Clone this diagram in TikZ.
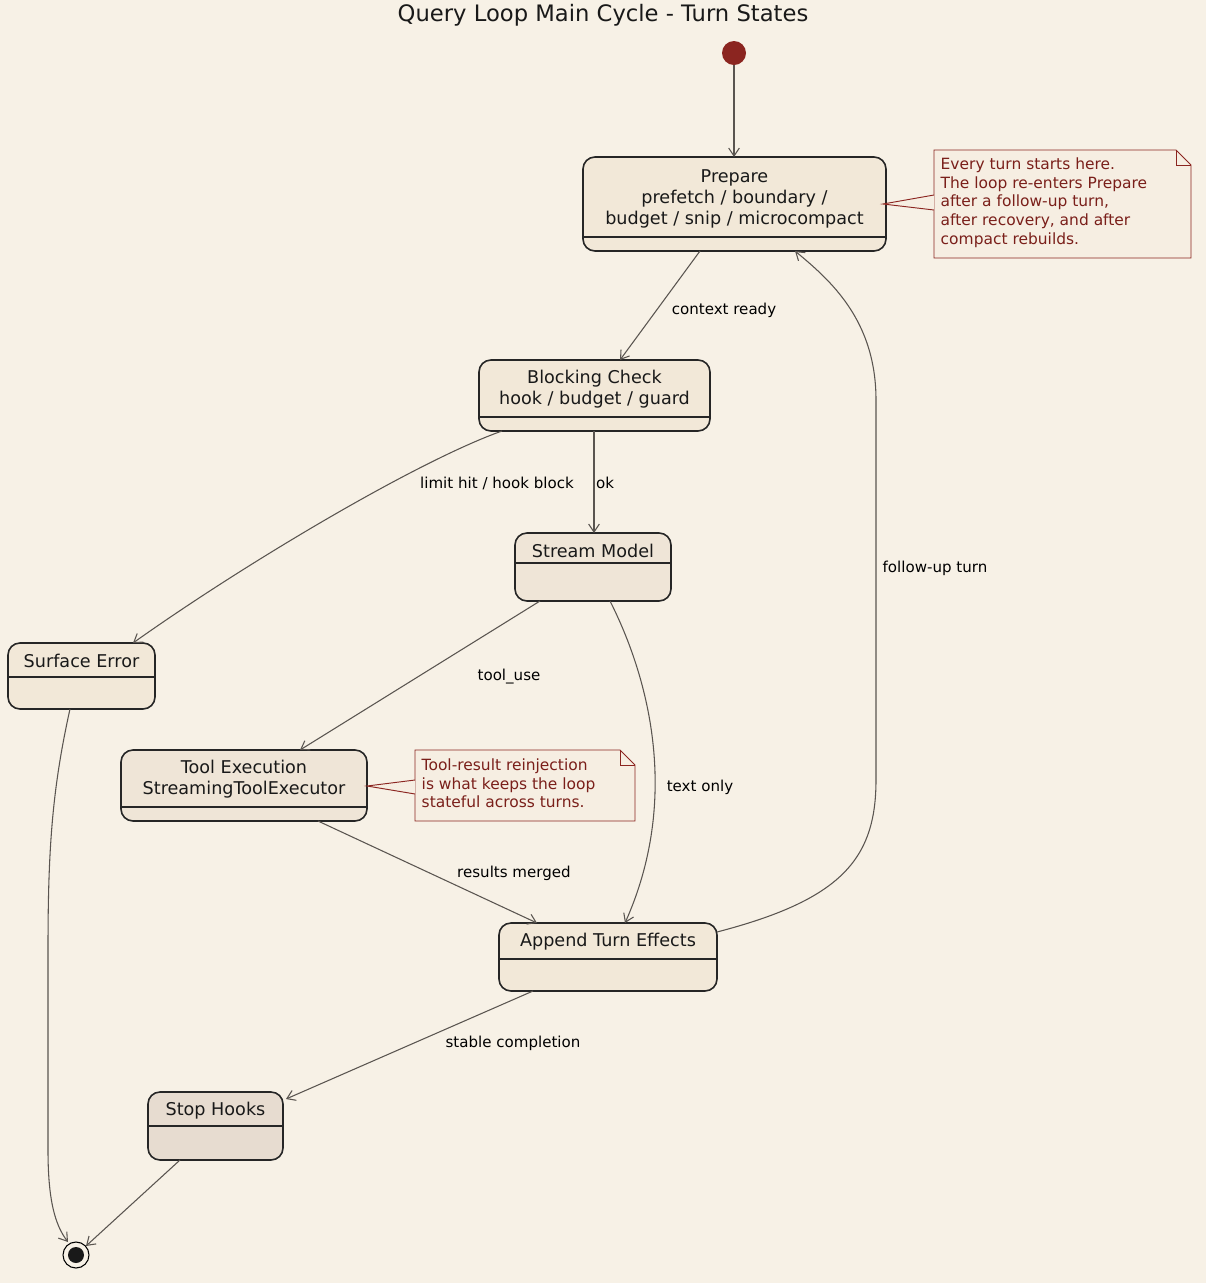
\documentclass[tikz,border=0pt]{standalone}
\usepackage{fontspec}
\setmainfont{DejaVu Sans}
\usetikzlibrary{arrows.meta}
\definecolor{bg}{HTML}{F7F1E6}
\definecolor{st}{HTML}{F2E8D8}
\definecolor{stb}{HTML}{EFE5D7}
\definecolor{sth}{HTML}{E7DCD0}
\definecolor{dred}{HTML}{8B2520}
\definecolor{ntext}{HTML}{7A1F1A}
\definecolor{edge}{HTML}{5A5550}
\definecolor{nfill}{HTML}{F6EEE2}
\begin{document}
\begin{tikzpicture}[x=0.75pt,y=-0.75pt,
 box/.style={draw=black!85,line width=1.2pt,rounded corners=9pt},
 lbl/.style={font=\fontsize{11.3}{13}\selectfont,text=black},
 stt/.style={font=\fontsize{13.2}{16}\selectfont,align=center,text=black!90},
 ed/.style={draw=edge,line width=0.8pt,-{Straight Barb[length=6pt,width=8pt]}},
 note/.style={draw=dred,fill=nfill,line width=0.7pt},
 ntx/.style={font=\fontsize{11.6}{14}\selectfont,align=left,text=ntext,anchor=north west}]
\fill[bg] (0,0) rectangle (1206,1283);
\useasboundingbox (0,0) rectangle (1206,1283);
\node[font=\fontsize{17}{20}\selectfont,text=black!90] (title) at (603,15) {Query Loop Main Cycle - Turn States};
% start/end
\node[circle,fill=dred,minimum size=24pt*0.75,inner sep=0] (start) at (734,53) {};
\node[circle,draw=black,line width=0.8pt,fill=bg,minimum size=26*0.75pt,inner sep=0] (end) at (76,1255) {};
\fill[black!90] (end.center) circle (8);
% states
\newcommand\stbox[6]{%
 \draw[box,fill=#6] (#1,#2) rectangle (#3,#4);
 \draw[black!85,line width=1.2pt] (#1,#5) -- (#3,#5);}
\stbox{583}{157}{886}{251}{237}{st}
\node[stt] (prep) at (734.5,199) {Prepare\\prefetch / boundary /\\budget / snip / microcompact};
\stbox{479}{360}{710}{431}{417}{st}
\node[stt] (blk) at (594.5,389) {Blocking Check\\hook / budget / guard};
\stbox{515}{533}{671}{601}{563}{stb}
\node[stt] (strm) at (593,551) {Stream Model};
\stbox{8}{643}{155}{709}{677}{st}
\node[stt] (surf) at (81.5,661) {Surface Error};
\stbox{121}{750}{367}{821}{807}{stb}
\node[stt] (tool) at (244,779) {Tool Execution\\StreamingToolExecutor};
\stbox{499}{923}{717}{991}{959}{st}
\node[stt] (app) at (608,942) {Append Turn Effects};
\stbox{148}{1092}{283}{1160}{1126}{sth}
\node[stt] (stop) at (215.5,1111) {Stop Hooks};
% named anchor coordinates
\coordinate (startb) at (734,65);
\coordinate (prepT) at (734,157);
\coordinate (prepB) at (700,251);
\coordinate (blkT) at (620,360);
\coordinate (blkB) at (594,431);
\coordinate (blkBL) at (502,431);
\coordinate (strmT) at (594,533);
\coordinate (surfT) at (133,643);
\coordinate (strmBL) at (540,601);
\coordinate (strmBR) at (610,601);
\coordinate (toolT) at (300,750);
\coordinate (appT) at (625,923);
\coordinate (appTL) at (537,923);
\coordinate (toolB) at (318,821);
\coordinate (appR) at (717,932);
\coordinate (prepBR) at (795,251);
\coordinate (appB) at (533,991);
\coordinate (stopT) at (286,1099);
\coordinate (surfB) at (70,709);
\coordinate (endT) at (68,1242);
\coordinate (stopB) at (180,1160);
\coordinate (endR) at (86,1246);
% edges
\draw[ed] (startb) -- (prepT);
\draw[ed] (prepB) -- (blkT);
\node[lbl] at (724,310) {context ready};
\draw[ed] (blkB) -- (strmT);
\node[lbl] at (605,483) {ok};
\draw[ed] (blkBL) .. controls (420,460) and (250,560) .. (surfT);
\node[lbl] at (497,483) {limit hit / hook block};
\draw[ed] (strmBL) -- (toolT);
\node[lbl] at (509,677) {tool\_use};
\draw[ed] (strmBR) .. controls (650,680) and (680,800) .. (appT);
\node[lbl] at (700,787) {text only};
\draw[ed] (toolB) -- (appTL);
\node[lbl] at (514,873) {results merged};
\draw[ed] (appR) .. controls (840,900) and (876,860) .. (876,780) -- (876,400) .. controls (876,320) and (830,280) .. (prepBR);
\node[lbl] at (935,568) {follow-up turn};
\draw[ed] (appB) -- (stopT);
\node[lbl] at (513,1043) {stable completion};
\draw[ed] (surfB) .. controls (52,790) and (48,850) .. (48,950) -- (48,1150) .. controls (48,1200) and (55,1225) .. (endT);
\draw[ed] (stopB) -- (endR);
% notes
\draw[note] (934,150) -- (1176,150) -- (1191,165) -- (1191,258) -- (934,258) -- cycle;
\draw[dred,line width=0.7pt] (1176,150) -- (1176,165) -- (1191,165);
\draw[note] (934,195) -- (883,204) -- (934,210);
\node[ntx] (n1) at (936,153) {Every turn starts here.\\The loop re-enters Prepare\\after a follow-up turn,\\after recovery, and after\\compact rebuilds.};
\draw[note] (415,750) -- (620,750) -- (635,765) -- (635,821) -- (415,821) -- cycle;
\draw[dred,line width=0.7pt] (620,750) -- (620,765) -- (635,765);
\draw[note] (415,780) -- (367,786) -- (415,794);
\node[ntx] (n2) at (417,754) {Tool-result reinjection\\is what keeps the loop\\stateful across turns.};
\end{tikzpicture}
\end{document}
